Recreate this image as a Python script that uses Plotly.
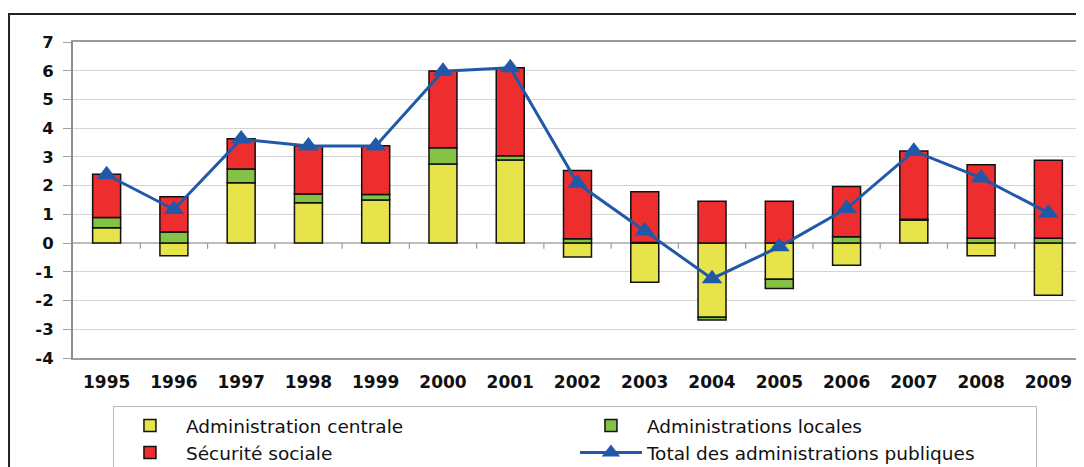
import plotly.graph_objects as go

years = ["1995", "1996", "1997", "1998", "1999", "2000", "2001", "2002",
         "2003", "2004", "2005", "2006", "2007", "2008", "2009"]
admin_centrale = [0.53, -0.44, 2.10, 1.40, 1.50, 2.75, 2.89, -0.48,
                  -1.36, -2.58, -1.26, -0.77, 0.80, -0.44, -1.82]
admin_locales = [0.36, 0.39, 0.48, 0.31, 0.19, 0.57, 0.15, 0.15,
                 0.02, -0.10, -0.32, 0.22, 0.03, 0.17, 0.17]
securite_sociale = [1.51, 1.22, 1.05, 1.68, 1.70, 2.67, 3.06, 2.38,
                    1.77, 1.46, 1.46, 1.75, 2.38, 2.56, 2.71]
total = [2.38, 1.17, 3.62, 3.38, 3.38, 5.98, 6.10, 2.08,
         0.42, -1.24, -0.13, 1.20, 3.20, 2.27, 1.05]
y_ticks = [-4, -3, -2, -1, 0, 1, 2, 3, 4, 5, 6, 7]
y_tick_labels = [str(v) for v in y_ticks]

YELLOW = "#E6E44A"
GREEN = "#84C246"
RED = "#EE2E2E"
BLUE = "#2159A8"
FONT = "DejaVu Sans, Liberation Sans, Arial, sans-serif"

fig = go.Figure()
bar_line = dict(color="#111111", width=1.5)
fig.add_trace(go.Bar(x=years, y=admin_centrale, name="Administration centrale",
                     marker=dict(color=YELLOW, line=bar_line)))
fig.add_trace(go.Bar(x=years, y=admin_locales, name="Administrations locales",
                     marker=dict(color=GREEN, line=bar_line)))
fig.add_trace(go.Bar(x=years, y=securite_sociale, name="Sécurité sociale",
                     marker=dict(color=RED, line=bar_line)))
fig.add_trace(go.Scatter(x=years, y=total, name="Total des administrations publiques",
                         mode="lines+markers",
                         line=dict(color=BLUE, width=3),
                         marker=dict(symbol="triangle-up", size=18, color=BLUE)))

# small tick marks on the zero line between categories
shapes = []
for i in range(len(years) - 1):
    shapes.append(dict(type="line", xref="x", yref="y", x0=i + 0.5, x1=i + 0.5,
                       y0=0, y1=-0.2, line=dict(color="#9a9a9a", width=1.2)))
# outer frame
shapes.append(dict(type="rect", xref="paper", yref="paper",
                   x0=-0.0634, x1=1.05, y0=-0.40, y1=1.0886,
                   line=dict(color="#222222", width=2), layer="below"))

fig.update_layout(
    width=1076, height=459,
    margin=dict(l=65, r=2, t=34, b=109, autoexpand=False),
    barmode="relative",
    bargap=0.584,
    plot_bgcolor="white",
    paper_bgcolor="white",
    font=dict(family=FONT, color="#111111"),
    shapes=shapes,
    showlegend=True,
    legend=dict(
        orientation="h",
        x=0.0396, y=-0.152, xanchor="left", yanchor="top",
        font=dict(size=18.5, family=FONT, color="#111111"),
        bordercolor="#bbbbbb", borderwidth=1,
        entrywidth=384, entrywidthmode="pixels",
        itemwidth=62,
        traceorder="normal",
    ),
)
fig.update_xaxes(
    type="category", range=[-0.5, len(years) - 0.5],
    showline=True, mirror=True, linecolor="#9a9a9a", linewidth=1.5,
    ticks="", showgrid=False,
    tickfont=dict(size=17, family=FONT, color="#111111", weight="bold"),
    ticklabelstandoff=8,
)
fig.update_yaxes(
    range=[-4, 7], tickvals=y_ticks, ticktext=y_tick_labels,
    showline=True, mirror=True, linecolor="#8c8c8c", linewidth=2,
    showgrid=True, gridcolor="#d4d4d4", gridwidth=1.2,
    zeroline=True, zerolinecolor="#bdbdbd", zerolinewidth=1.5,
    ticks="outside", ticklen=8, tickcolor="#a0a0a0", tickwidth=1.2,
    tickfont=dict(size=16.5, family=FONT, color="#111111", weight="bold"),
    ticklabelstandoff=6,
)

fig.write_html("out.html")
